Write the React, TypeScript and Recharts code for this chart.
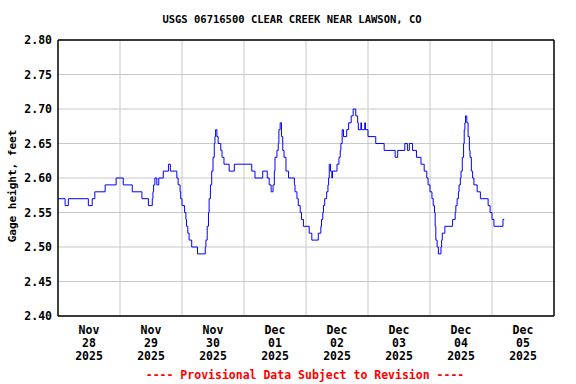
import React from "react"
import { LineChart, Line, XAxis, YAxis, CartesianGrid, ReferenceLine } from "recharts"

// hours since Nov 28 2025 00:00, at each change of the gage reading
const hoursSinceStart = [
  0, 2.75, 4, 11.75, 13.25, 14.25, 18.25, 22.5, 25.25, 28.75, 32.5, 35, 36.5, 36.75, 37, 37.5, 38.25,
  39, 40.75, 42.75, 43.5, 46, 46.5, 47.25, 47.5, 48, 49, 49.5, 49.75, 50.25, 50.75, 51.75, 54,
  57, 57.25, 57.75, 58.25, 58.5, 59, 59.5, 60, 60.5, 60.75, 61, 61.5, 62, 63, 63.5, 64.25, 66.25,
  68.25, 75, 76.25, 79.25, 81, 81.75, 82.5, 83.25, 83.75, 84, 84.75, 85.25, 85.5, 86, 86.5, 87,
  87.5, 88.25, 88.75, 89.25, 91.5, 91.75, 92.5, 93, 93.75, 94.25, 95, 97.25, 98.25, 100.75, 101.75,
  102, 102.5, 102.75, 103.25, 104, 104.5, 104.75, 105, 105.5, 106, 106.25, 108, 108.75, 109.25,
  109.5, 110, 110.5, 111.75, 112.5, 113.5, 114.25, 115.25, 116, 116.25, 117.25, 117.5, 118.75,
  119, 120, 123, 126.25, 130.5, 131.5, 134.25, 135.25, 136, 137.25, 138.75, 140.5, 141.75, 142.75,
  143.25, 144, 144.75, 145.25, 145.75, 146, 146.25, 146.75, 147.25, 148.25, 148.5, 148.75, 149.75,
  152.75, 153.75, 154, 154.5, 155, 155.25, 155.75, 156, 156.5, 157, 157.25, 157.5, 157.75, 158.25,
  158.75, 159.25, 159.5, 160, 160.5, 161, 162.25, 163.5, 166.5, 167.25, 168, 168.75, 172.25, 172.75,
]

const gageFeet = [
  2.57, 2.56, 2.57, 2.56, 2.57, 2.58, 2.59, 2.6, 2.59, 2.58, 2.57, 2.56, 2.57, 2.58, 2.59, 2.6, 2.59,
  2.6, 2.61, 2.62, 2.61, 2.6, 2.59, 2.58, 2.57, 2.56, 2.55, 2.54, 2.53, 2.52, 2.51, 2.5, 2.49,
  2.5, 2.51, 2.53, 2.55, 2.57, 2.59, 2.61, 2.63, 2.65, 2.66, 2.67, 2.66, 2.65, 2.64, 2.63, 2.62, 2.61,
  2.62, 2.61, 2.6, 2.61, 2.6, 2.59, 2.58, 2.59, 2.61, 2.63, 2.64, 2.65, 2.67, 2.68, 2.66, 2.64,
  2.63, 2.61, 2.61, 2.6, 2.59, 2.58, 2.57, 2.56, 2.55, 2.54, 2.53, 2.52, 2.51, 2.52, 2.53,
  2.54, 2.55, 2.56, 2.57, 2.58, 2.59, 2.6, 2.62, 2.61, 2.6, 2.61, 2.62, 2.63, 2.64,
  2.65, 2.67, 2.66, 2.67, 2.68, 2.69, 2.7, 2.69, 2.68, 2.67, 2.68, 2.67, 2.68,
  2.67, 2.66, 2.65, 2.64, 2.63, 2.64, 2.65, 2.64, 2.65, 2.64, 2.63, 2.62, 2.61, 2.6,
  2.59, 2.58, 2.57, 2.56, 2.55, 2.53, 2.51, 2.5, 2.49, 2.5, 2.51, 2.52, 2.53,
  2.54, 2.55, 2.56, 2.57, 2.58, 2.59, 2.6, 2.61, 2.63, 2.65, 2.67, 2.68, 2.69, 2.68,
  2.66, 2.64, 2.63, 2.61, 2.6, 2.59, 2.58, 2.57, 2.56, 2.55, 2.54, 2.53, 2.54, 2.54,
]

const yTicks = [2.4, 2.45, 2.5, 2.55, 2.6, 2.65, 2.7, 2.75, 2.8]
const dayBoundaries = [24, 48, 72, 96, 120, 144, 168]
const labelHours = [12, 36, 60, 84, 108, 132, 156, 180]
const labelMonths = ["Nov", "Nov", "Nov", "Dec", "Dec", "Dec", "Dec", "Dec"]
const labelDays = ["28", "29", "30", "01", "02", "03", "04", "05"]
const labelYear = "2025"
const xDomain = [0, 192]
const yDomain = [2.4, 2.8]

const data = hoursSinceStart.map((h, i) => ({ h, gage: gageFeet[i] }))

const FONT = '"DejaVu Sans Mono", monospace'

function DateTick(props: any) {
  const { x, y, index } = props
  return (
    <text x={x} y={y} textAnchor="middle" fontFamily={FONT} fontWeight="bold" fontSize={11.5} fill="#000">
      <tspan x={x} dy={10}>{labelMonths[index]}</tspan>
      <tspan x={x} dy={13}>{labelDays[index]}</tspan>
      <tspan x={x} dy={13}>{labelYear}</tspan>
    </text>
  )
}

export default function App() {
  return (
    <div style={{ position: "absolute", left: 0, top: 0, width: 576, height: 384, background: "#fff" }}>
      <div
        style={{
          position: "absolute",
          left: 0,
          top: 12,
          width: 584,
          textAlign: "center",
          fontFamily: FONT,
          fontWeight: "bold",
          fontSize: 10.5,
          lineHeight: "14px",
        }}
      >
        USGS 06716500 CLEAR CREEK NEAR LAWSON, CO
      </div>
      <LineChart width={576} height={384} data={data} margin={{ top: 40, right: 22, bottom: 10, left: 8 }}>
        <CartesianGrid stroke="#c8c8c8" strokeWidth={1} vertical={false} />
        {dayBoundaries.map((d) => (
          <ReferenceLine key={d} x={d} stroke="#c8c8c8" strokeWidth={1} />
        ))}
        <XAxis
          dataKey="h"
          type="number"
          domain={xDomain}
          ticks={labelHours}
          tick={<DateTick />}
          tickLine={false}
          axisLine={{ stroke: "#000", strokeWidth: 1.5 }}
          interval={0}
          height={58}
        />
        <YAxis
          type="number"
          domain={yDomain}
          ticks={yTicks}
          tickFormatter={(v: number) => v.toFixed(2)}
          tickLine={false}
          tickSize={4}
          tickMargin={2}
          axisLine={{ stroke: "#000", strokeWidth: 1.5 }}
          width={50}
          tick={{ fontFamily: FONT, fontWeight: "bold", fontSize: 11.5, fill: "#000" }}
          interval={0}
        />
        <ReferenceLine x={xDomain[1]} stroke="#000" strokeWidth={1.5} />
        <ReferenceLine y={yDomain[1]} stroke="#000" strokeWidth={1.5} />
        <Line
          type="stepAfter"
          dataKey="gage"
          stroke="#0000ff"
          strokeWidth={1}
          dot={false}
          isAnimationActive={false}
        />
      </LineChart>
      <div
        style={{
          position: "absolute",
          left: 12,
          top: 186,
          transform: "translate(-50%, -50%) rotate(-90deg)",
          fontFamily: FONT,
          fontWeight: "bold",
          fontSize: 11,
          whiteSpace: "nowrap",
        }}
      >
        Gage height, feet
      </div>
      <div
        style={{
          position: "absolute",
          left: 0,
          top: 368,
          width: 610,
          textAlign: "center",
          fontFamily: FONT,
          fontWeight: "bold",
          fontSize: 11.5,
          lineHeight: "14px",
          color: "#ff0000",
        }}
      >
        ---- Provisional Data Subject to Revision ----
      </div>
    </div>
  )
}
